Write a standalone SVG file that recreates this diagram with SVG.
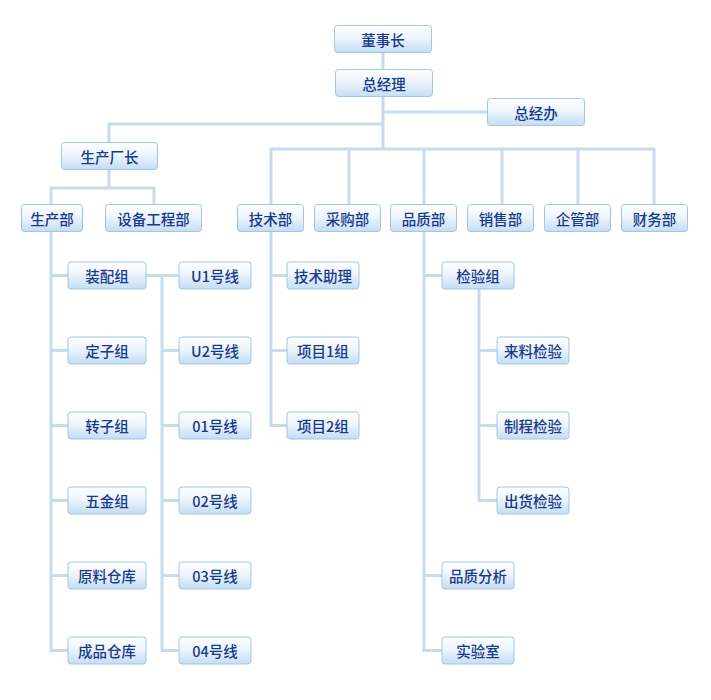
<svg xmlns="http://www.w3.org/2000/svg" width="711" height="700" viewBox="0 0 711 700">
<defs>
<linearGradient id="g" x1="0" y1="0" x2="0" y2="1">
<stop offset="0" stop-color="#ffffff"/>
<stop offset="0.45" stop-color="#edf5fc"/>
<stop offset="1" stop-color="#c4ddf5"/>
</linearGradient>
<style>
.b{fill:url(#g);stroke:#a3c6e3;stroke-width:1}
.t{font-family:"Noto Sans CJK SC","Liberation Sans",sans-serif;font-size:14.5px;font-weight:500;fill:#173a8a;text-anchor:middle;dominant-baseline:central}
.c{fill:none;stroke:#c5dcec;stroke-width:3}
</style>
</defs>
<rect width="711" height="700" fill="#ffffff"/>
<g id="connectors" class="c">
<path d="M383 52V69M383 96V149M383 112H487M383 124H109V143"/>
<path d="M109 169V188M51 204V188H154V204"/>
<path d="M271 204V149H654V204M349 149V204M424 149V204M502 149V204M578 149V204"/>
<path d="M51 231V650.5H68M51 275.5H68M51 350.5H68M51 425.5H68M51 500.5H68M51 575.5H68"/>
<path d="M146 275.5H179M162 275.5V650.5H179M162 350.5H179M162 425.5H179M162 500.5H179M162 575.5H179"/>
<path d="M271 231V425.5H287M271 275.5H287M271 350.5H287"/>
<path d="M424 231V650.5H442M424 275.5H442M424 575.5H442"/>
<path d="M479 289V500.5H497M479 350.5H497M479 425.5H497"/>
</g>
<g id="n-dongshizhang"><rect class="b" x="334.5" y="25.5" width="97" height="27" rx="3"/><text class="t" x="383" y="39">董事长</text></g>
<g id="n-zongjingli"><rect class="b" x="335.5" y="69.5" width="97" height="27" rx="3"/><text class="t" x="384" y="83">总经理</text></g>
<g id="n-zongjingban"><rect class="b" x="487.5" y="98.5" width="97" height="27" rx="3"/><text class="t" x="536" y="112">总经办</text></g>
<g id="n-shengchanchangzhang"><rect class="b" x="61.5" y="142.5" width="96" height="27" rx="3"/><text class="t" x="109.5" y="156">生产厂长</text></g>
<g id="n-shengchanbu"><rect class="b" x="21.5" y="204.5" width="61" height="27" rx="3"/><text class="t" x="52" y="218">生产部</text></g>
<g id="n-shebei"><rect class="b" x="105.5" y="204.5" width="96" height="27" rx="3"/><text class="t" x="153.5" y="218">设备工程部</text></g>
<g id="n-jishubu"><rect class="b" x="237.5" y="204.5" width="66" height="27" rx="3"/><text class="t" x="270.5" y="218">技术部</text></g>
<g id="n-caigoubu"><rect class="b" x="314.5" y="204.5" width="66" height="27" rx="3"/><text class="t" x="347.5" y="218">采购部</text></g>
<g id="n-pinzhibu"><rect class="b" x="390.5" y="204.5" width="66" height="27" rx="3"/><text class="t" x="423.5" y="218">品质部</text></g>
<g id="n-xiaoshoubu"><rect class="b" x="467.5" y="204.5" width="66" height="27" rx="3"/><text class="t" x="500.5" y="218">销售部</text></g>
<g id="n-qiguanbu"><rect class="b" x="544.5" y="204.5" width="66" height="27" rx="3"/><text class="t" x="577.5" y="218">企管部</text></g>
<g id="n-caiwubu"><rect class="b" x="621.5" y="204.5" width="66" height="27" rx="3"/><text class="t" x="654.5" y="218">财务部</text></g>
<g id="n-zhuangpeizu"><rect class="b" x="68" y="262" width="78" height="27" rx="3"/><text class="t" x="107" y="275.5">装配组</text></g>
<g id="n-dingzizu"><rect class="b" x="68" y="337" width="78" height="27" rx="3"/><text class="t" x="107" y="350.5">定子组</text></g>
<g id="n-zhuanzizu"><rect class="b" x="68" y="412" width="78" height="27" rx="3"/><text class="t" x="107" y="425.5">转子组</text></g>
<g id="n-wujinzu"><rect class="b" x="68" y="487" width="78" height="27" rx="3"/><text class="t" x="107" y="500.5">五金组</text></g>
<g id="n-yuanliao"><rect class="b" x="68" y="562" width="78" height="27" rx="3"/><text class="t" x="107" y="575.5">原料仓库</text></g>
<g id="n-chengpin"><rect class="b" x="68" y="637" width="78" height="27" rx="3"/><text class="t" x="107" y="650.5">成品仓库</text></g>
<g id="n-u1"><rect class="b" x="179" y="262" width="72" height="27" rx="3"/><text class="t" x="215" y="275.5">U1号线</text></g>
<g id="n-u2"><rect class="b" x="179" y="337" width="72" height="27" rx="3"/><text class="t" x="215" y="350.5">U2号线</text></g>
<g id="n-01"><rect class="b" x="179" y="412" width="72" height="27" rx="3"/><text class="t" x="215" y="425.5">01号线</text></g>
<g id="n-02"><rect class="b" x="179" y="487" width="72" height="27" rx="3"/><text class="t" x="215" y="500.5">02号线</text></g>
<g id="n-03"><rect class="b" x="179" y="562" width="72" height="27" rx="3"/><text class="t" x="215" y="575.5">03号线</text></g>
<g id="n-04"><rect class="b" x="179" y="637" width="72" height="27" rx="3"/><text class="t" x="215" y="650.5">04号线</text></g>
<g id="n-jishuzhuli"><rect class="b" x="287" y="262" width="72" height="27" rx="3"/><text class="t" x="323" y="275.5">技术助理</text></g>
<g id="n-xiangmu1"><rect class="b" x="287" y="337" width="72" height="27" rx="3"/><text class="t" x="323" y="350.5">项目1组</text></g>
<g id="n-xiangmu2"><rect class="b" x="287" y="412" width="72" height="27" rx="3"/><text class="t" x="323" y="425.5">项目2组</text></g>
<g id="n-jianyanzu"><rect class="b" x="442" y="262" width="72" height="27" rx="3"/><text class="t" x="478" y="275.5">检验组</text></g>
<g id="n-pinzhifenxi"><rect class="b" x="442" y="562" width="72" height="27" rx="3"/><text class="t" x="478" y="575.5">品质分析</text></g>
<g id="n-shiyanshi"><rect class="b" x="442" y="637" width="72" height="27" rx="3"/><text class="t" x="478" y="650.5">实验室</text></g>
<g id="n-lailiao"><rect class="b" x="497" y="337" width="72" height="27" rx="3"/><text class="t" x="533" y="350.5">来料检验</text></g>
<g id="n-zhicheng"><rect class="b" x="497" y="412" width="72" height="27" rx="3"/><text class="t" x="533" y="425.5">制程检验</text></g>
<g id="n-chuhuo"><rect class="b" x="497" y="487" width="72" height="27" rx="3"/><text class="t" x="533" y="500.5">出货检验</text></g>
</svg>
